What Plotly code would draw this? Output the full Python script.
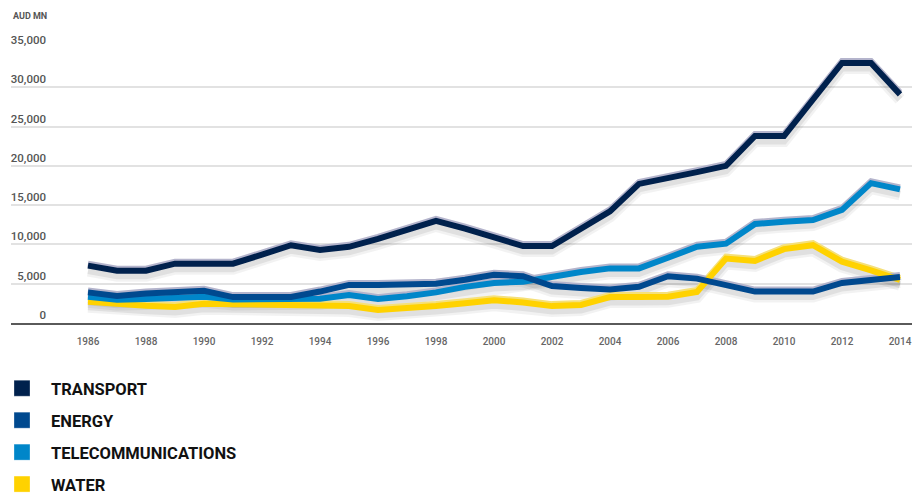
import plotly.graph_objects as go

years = list(range(1986, 2015))
transport = [7300, 6650, 6650, 7550, 7550, 7550, 8700, 9900, 9300, 9700, 10700, 11900, 13000, 12000,
             10800, 9800, 9800, 12100, 14200, 17700, 18400, 19200, 20000, 23800, 23800, 28400, 33100, 33100, 29100]
energy = [3900, 3450, 3750, 4000, 4100, 3300, 3250, 3300, 4000, 4850, 4850, 4900, 5000, 5500,
          6150, 5950, 4700, 4450, 4250, 4600, 5950, 5650, 4900, 4000, 4000, 4000, 5100, 5450, 5850]
telecom = [3350, 2950, 3050, 3250, 3350, 3000, 3000, 3000, 3100, 3550, 3050, 3400, 3900, 4600,
           5100, 5250, 5950, 6500, 6950, 6950, 8300, 9700, 10100, 12600, 12900, 13100, 14400, 17800, 17000]
water = [2700, 2380, 2200, 2050, 2450, 2400, 2350, 2350, 2300, 2150, 1650, 1850, 2150, 2500,
         2900, 2600, 2150, 2300, 3300, 3300, 3350, 3950, 8200, 7900, 9400, 9900, 7800, 6700, 5500]

names = ["TRANSPORT", "ENERGY", "TELECOMMUNICATIONS", "WATER"]
colors = ["#00214d", "#00498f", "#0086c9", "#ffd200"]
series = [transport, energy, telecom, water]

y_ticks = [0, 5000, 10000, 15000, 20000, 25000, 30000, 35000]
x_ticks = list(range(1986, 2015, 2))

FONT = "Roboto, Liberation Sans, sans-serif"

W, H = 912, 497
L, R, T, B = 11, 0, 48, 497 - 323
plot_w = W - L - R
plot_h = H - T - B
ymax = 35000
upp = ymax / plot_h  # units per pixel
ppy = 812 / 28       # pixels per year


def px_x(page_x):
    return (page_x - L) / plot_w


def px_y(page_y):
    return (H - B - page_y) / plot_h


fig = go.Figure()

draw_order = [3, 2, 1, 0]  # water, telecom, energy, transport

# legend entries (on the main axis so that its grid is drawn)
for i in range(4):
    fig.add_trace(go.Scatter(x=[None], y=[None], mode="markers", name=names[i], legendgroup=names[i],
                             marker=dict(symbol="square", size=20, color=colors[i],
                                         line=dict(color="rgba(255,255,255,0.3)", width=1))))

# soft shadows (y2)
for i in draw_order:
    fig.add_trace(go.Scatter(x=years, y=series[i], mode="lines", yaxis="y2", showlegend=False,
                             hoverinfo="skip", line=dict(color="rgba(0,0,0,0.05)", width=12)))
    fig.add_trace(go.Scatter(x=years, y=series[i], mode="lines", yaxis="y2", showlegend=False,
                             hoverinfo="skip", line=dict(color="rgba(0,0,0,0.07)", width=7)))
# top highlights (y3)
for i in draw_order:
    fig.add_trace(go.Scatter(x=years, y=series[i], mode="lines", yaxis="y3", showlegend=False,
                             hoverinfo="skip",
                             line=dict(color="#b4b4cc" if i != 3 else "#f5e07a", width=6)))
# main lines (y4, which also carries the tick labels)
for i in draw_order:
    fig.add_trace(go.Scatter(x=years, y=series[i], mode="lines", yaxis="y4", showlegend=False,
                             name=names[i], line=dict(color=colors[i], width=6)))

x_left = 1986 - (88 - L) / ppy
x_right = 2014 + (W - R - 900) / ppy

hidden = dict(overlaying="y", showgrid=False, showticklabels=False, zeroline=False, showline=False,
              ticks="")

fig.update_layout(
    width=W, height=H,
    margin=dict(l=L, r=R, t=T, b=B, autoexpand=False),
    paper_bgcolor="white", plot_bgcolor="white",
    font=dict(family=FONT, color="#555555"),
    xaxis=dict(range=[x_left, x_right], tickvals=x_ticks, showgrid=False, zeroline=False,
               showline=True, linecolor="#5a5a5a", linewidth=2,
               ticks="outside", ticklen=8, tickcolor="rgba(0,0,0,0)",
               ticklabeloverflow="allow",
               tickfont=dict(family=FONT, size=10, color="#666666", weight=500)),
    yaxis=dict(range=[0, ymax], tickvals=y_ticks, showgrid=True, gridcolor="#e2e2e2", gridwidth=2,
               showticklabels=False, zeroline=False, ticks=""),
    yaxis2=dict(range=[5 * upp, ymax + 5 * upp], **hidden),
    yaxis3=dict(range=[-2 * upp, ymax - 2 * upp], **hidden),
    yaxis4=dict(overlaying="y", anchor="free", position=px_x(46), side="left",
                range=[0, ymax], tickvals=y_ticks, tickformat=",", showgrid=False, zeroline=False,
                showline=False, ticks="", ticklabelposition="outside top",
                tickfont=dict(family=FONT, size=11.5, color="#555555", weight=500)),
    showlegend=True,
    legend=dict(x=px_x(-7), y=px_y(371), xanchor="left", yanchor="top",
                orientation="v", traceorder="grouped", tracegroupgap=7.5,
                itemwidth=48,
                font=dict(family=FONT, size=16.5, color="#111111", weight="bold"),
                bgcolor="rgba(0,0,0,0)"),
    annotations=[dict(text="AUD MN", xref="paper", yref="paper", x=px_x(11), y=px_y(16),
                      xanchor="left", yanchor="middle", showarrow=False,
                      font=dict(family=FONT, size=9, color="#555555", weight="bold"))],
)

fig.write_html("out.html", config={"displayModeBar": False},
               post_script="document.body.style.margin='0px';document.body.style.overflow='hidden';")
